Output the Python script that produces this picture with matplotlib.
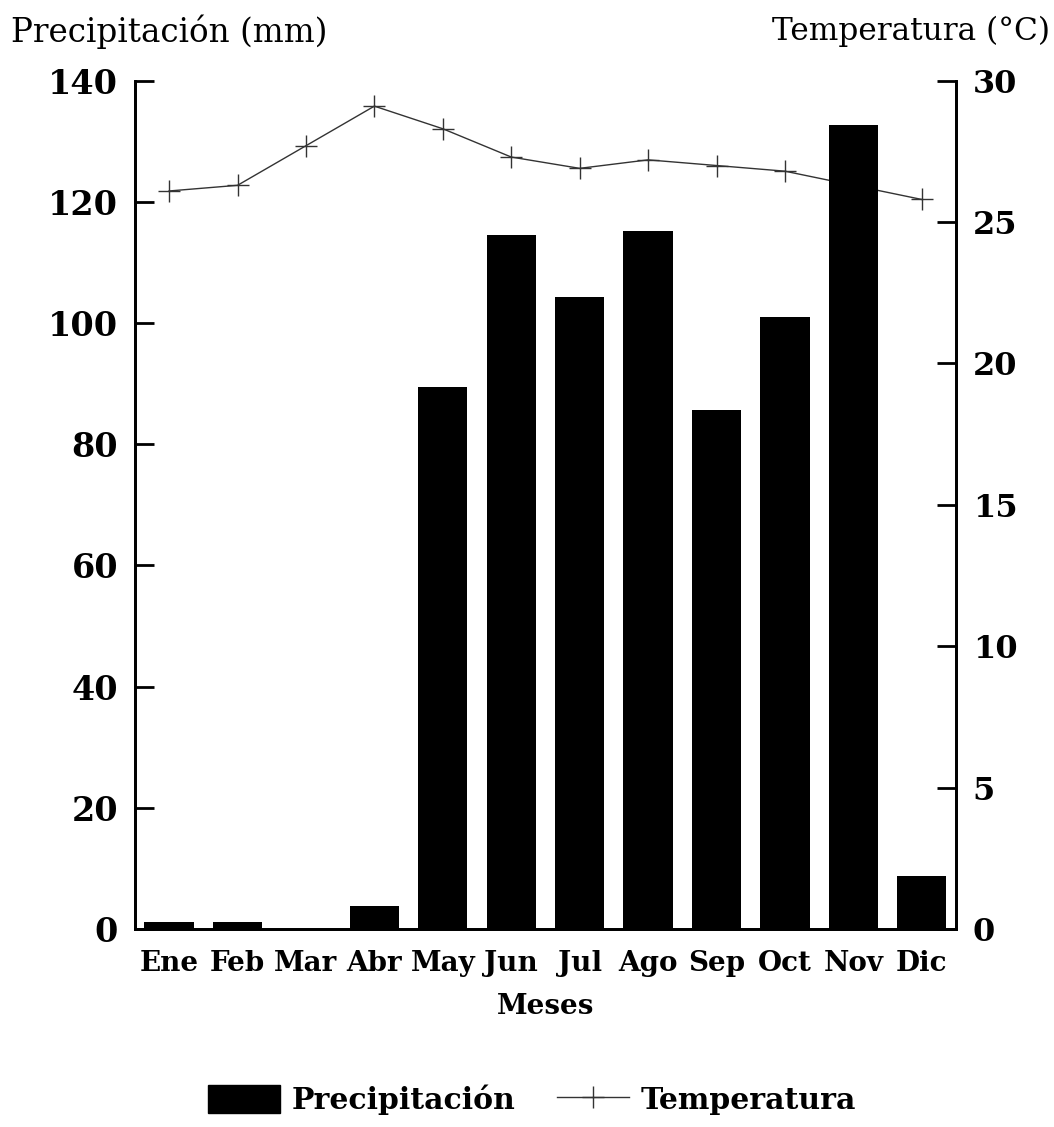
import numpy as np
import matplotlib.pyplot as plt
from matplotlib.patches import Patch
from matplotlib.lines import Line2D

# monthly climate data
months = ['Ene', 'Feb', 'Mar', 'Abr', 'May', 'Jun',
          'Jul', 'Ago', 'Sep', 'Oct', 'Nov', 'Dic']
precip = [1.2, 1.2, 0.0, 3.8, 89.4, 114.5, 104.3, 115.2, 85.6, 101.0, 132.7, 8.8]
temp = [26.1, 26.3, 27.7, 29.1, 28.3, 27.3, 26.9, 27.2, 27.0, 26.8, 26.3, 25.8]

prec_ticks = [0, 20, 40, 60, 80, 100, 120, 140]
temp_ticks = [0, 5, 10, 15, 20, 25, 30]

serif = 'DejaVu Serif'

fig = plt.figure(figsize=(10.54, 11.27), dpi=100)
ax = fig.add_axes([0.128, 0.1757, 0.779, 0.7527])
ax2 = ax.twinx()

x = np.arange(len(months))

# temperature line goes behind the bars
ax2.plot(x, temp, color='#333333', lw=1.0, marker='+', ms=16, mew=1.0)
ax.set_zorder(ax2.get_zorder() + 1)
ax.patch.set_visible(False)
ax.bar(x, precip, width=0.72, color='black')

ax.set_xlim(-0.5, 11.5)
ax.set_ylim(0, 140)
ax2.set_ylim(0, 30)

ax.set_yticks(prec_ticks)
ax2.set_yticks(temp_ticks)
ax.set_xticks(x)
ax.set_xticklabels(months)

for a in (ax, ax2):
    a.spines['top'].set_visible(False)
    for s in ('left', 'right', 'bottom'):
        a.spines[s].set_linewidth(2)
ax.tick_params(axis='y', direction='in', length=14, width=2, pad=12,
               labelsize=24)
ax2.tick_params(axis='y', direction='in', length=14, width=2, pad=12,
                labelsize=23)
ax.tick_params(axis='x', length=0, pad=15, labelsize=20)
for lab in ax.get_yticklabels() + ax2.get_yticklabels() + ax.get_xticklabels():
    lab.set_fontfamily(serif)
    lab.set_fontweight('heavy')

ax.set_xlabel('Meses', fontsize=20, fontfamily=serif, fontweight='heavy',
              labelpad=12)

fig.text(0.01, 0.972, 'Precipitación (mm)', fontsize=23.5, fontfamily=serif,
         ha='left', va='center')
fig.text(0.996, 0.972, 'Temperatura (°C)', fontsize=22.5, fontfamily=serif,
         ha='right', va='center')

handles = [Patch(facecolor='black', edgecolor='black'),
           Line2D([], [], color='#333333', lw=1.0, marker='+', ms=16, mew=1.0)]
fig.legend(handles, ['Precipitación', 'Temperatura'], loc='center',
           bbox_to_anchor=(0.505, 0.024), ncol=2, frameon=False,
           handlelength=2.4, handleheight=1.05, handletextpad=0.4,
           columnspacing=1.4,
           prop={'family': serif, 'weight': 'heavy', 'size': 21.5})

plt.savefig('out.png', dpi=100)
